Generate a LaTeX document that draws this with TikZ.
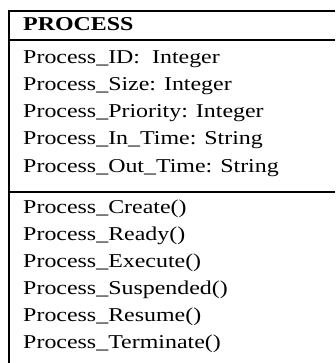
\documentclass[tikz,border=0pt]{standalone}
\usepackage{fontspec}
\setmainfont{Liberation Serif}
\begin{document}
\begin{tikzpicture}[x=1pt,y=-1pt,
    member/.style={anchor=base west, inner sep=0pt, xscale=1.22, transform shape,
      font=\fontsize{19.6}{27}\selectfont},
    rule/.style={line width=1.9pt}]
    \useasboundingbox (0,0) rectangle (335,363);

    \coordinate (TL) at (9,11);
    \coordinate (TR) at (335,11);
    \coordinate (BL) at (9,363);
    \coordinate (H1L) at (9,39.7);
    \coordinate (H1R) at (335,39.7);
    \coordinate (H2L) at (9,191.7);
    \coordinate (H2R) at (335,191.7);

    \draw[rule] (8,11) -- (TR);
    \draw[rule] (TL) -- (BL);
    \draw[rule] (H1L) -- (H1R);
    \draw[rule] (H2L) -- (H2R);

    \node[member, font=\fontsize{19.6}{27}\selectfont\bfseries] (title) at (23,31) {PROCESS};

    \foreach \i/\txt in {1/{Process\_ID:\ \ Integer}, 2/{Process\_Size: Integer},
        3/{Process\_Priority: Integer}, 4/{Process\_In\_Time: String},
        5/{Process\_Out\_Time: String}} {
      \node[member] (attr\i) at (23,{64+27*(\i-1)}) {\txt};
    }

    \foreach \i/\txt in {1/{Process\_Create()}, 2/{Process\_Ready()},
        3/{Process\_Execute()}, 4/{Process\_Suspended()},
        5/{Process\_Resume()}, 6/{Process\_Terminate()}} {
      \node[member] (op\i) at (23,{213+27*(\i-1)}) {\txt};
    }
  \end{tikzpicture}
\end{document}
